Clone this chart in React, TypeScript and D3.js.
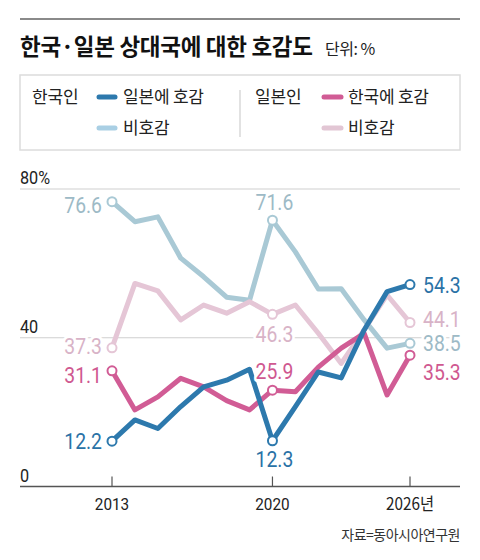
import * as d3 from "d3";
import React, { useEffect } from "react";

// 연도 (x축)
const years = [2013, 2014, 2015, 2016, 2017, 2018, 2019, 2020, 2021, 2022, 2023, 2024, 2025, 2026];
const tickYears = [2013, 2020, 2026];
const tickLabels = ["2013", "2020", "2026년"];
const yTicks = [0, 40, 80];
const yTickLabels = ["0", "40", "80%"];

// 한국인 → 일본
const krLikeJp = [12.2, 17.9, 15.6, 21.5, 26.8, 28.6, 31.5, 12.3, 21.5, 30.8, 29.2, 42.1, 52.4, 54.3];
const krDislikeJp = [76.6, 71.2, 72.5, 61.4, 56.4, 50.9, 50.1, 71.6, 63.1, 53.1, 53.2, 44.8, 37.2, 38.5];
// 일본인 → 한국
const jpLikeKr = [31.1, 20.6, 24.1, 29.1, 26.8, 23.1, 20.6, 25.9, 25.5, 32.1, 37.2, 41.2, 24.6, 35.3];
const jpDislikeKr = [37.3, 54.6, 52.6, 44.8, 48.8, 46.6, 49.7, 46.3, 48.8, 41.2, 33.1, 42.1, 51.5, 44.1];

const labelYears = [2013, 2020, 2026];

const KR = "'Noto Sans CJK KR', 'Noto Sans', sans-serif";
const NUM = "Roboto, sans-serif";

interface Series {
  key: string;
  values: number[];
  line: string;
  text: string;
  // 레이블 위치 보정 (왼쪽, 가운데, 오른쪽)
  left: number;
  mid: number;
  right: number;
}

const series: Series[] = [
  { key: "krDislike", values: krDislikeJp, line: "#a9c9d5", text: "#9dbac6", left: 3, mid: -10, right: 0 },
  { key: "jpDislike", values: jpDislikeKr, line: "#e5c6d6", text: "#d8b3c7", left: -2, mid: 28, right: -4 },
  { key: "jpLike", values: jpLikeKr, line: "#d15c95", text: "#cf5890", left: 4, mid: -11, right: 17 },
  { key: "krLike", values: krLikeJp, line: "#2d79ad", text: "#2a72a6", left: 0, mid: 26, right: 0 },
];

const App: React.FC = () => {
  useEffect(() => {
    document.body.style.margin = "0";
  }, []);

  const x = d3.scaleLinear().domain([2013, 2026]).range([112, 410]);
  const y = d3.scaleLinear().domain([0, 80]).range([486.5, 189]);

  const line = d3
    .line<number>()
    .x((_, i) => x(years[i]))
    .y((d) => y(d));

  const halo = { paintOrder: "stroke" as const, stroke: "#fff", strokeWidth: 6, strokeLinejoin: "round" as const };

  return (
    <svg width={480} height={560} style={{ display: "block" }}>
      <rect width={480} height={560} fill="#fff" />
      {/* 상단 괘선 */}
      <line x1={20} x2={460} y1={19} y2={19} stroke="#8a8a8a" strokeWidth={2} />
      <text x={20} y={55} fontFamily={KR} fontWeight={700} fontSize={22.5} letterSpacing={-0.3} fill="#111">
        한국·일본 상대국에 대한 호감도
      </text>
      <text x={325} y={55} fontFamily={KR} fontSize={16} letterSpacing={-0.5} fill="#222">
        단위: %
      </text>

      {/* 범례 */}
      <rect x={20} y={75} width={440} height={75} fill="none" stroke="#dcdcdc" strokeWidth={1.5} />
      <line x1={240} x2={240} y1={90} y2={137} stroke="#d8d8d8" strokeWidth={1.5} />
      <g fontFamily={KR} fontSize={17} fill="#222" letterSpacing={-0.2}>
        <text x={32} y={103}>한국인</text>
        <text x={123} y={103}>일본에 호감</text>
        <text x={123} y={134}>비호감</text>
        <text x={255} y={103}>일본인</text>
        <text x={348} y={103}>한국에 호감</text>
        <text x={348} y={134}>비호감</text>
      </g>
      <line x1={99} x2={115} y1={97} y2={97} stroke={series[3].line} strokeWidth={5} strokeLinecap="round" />
      <line x1={99} x2={115} y1={128} y2={128} stroke="#a9cfe4" strokeWidth={5} strokeLinecap="round" />
      <line x1={324} x2={341} y1={97} y2={97} stroke={series[2].line} strokeWidth={5} strokeLinecap="round" />
      <line x1={324} x2={341} y1={128} y2={128} stroke="#e2c6d4" strokeWidth={5} strokeLinecap="round" />

      {/* 격자 */}
      {yTicks.map((t, i) => (
        <g key={t}>
          <line
            x1={20}
            x2={460}
            y1={y(t)}
            y2={y(t)}
            stroke={t === 0 ? "#555" : "#cfcfcf"}
            strokeWidth={t === 0 ? 1.5 : 1}
          />
          <text
            transform={`translate(20,${y(t) - 5}) scale(0.9,1)`}
            fontFamily={NUM}
            fontSize={18}
            fill="#222"
          >
            {yTickLabels[i]}
          </text>
        </g>
      ))}
      {tickYears.map((t, i) => (
        <g key={t}>
          <line x1={x(t)} x2={x(t)} y1={y(0) - 10} y2={y(0)} stroke="#555" strokeWidth={1.2} />
          <text
            transform={`translate(${x(t)},510) scale(0.9,1)`}
            textAnchor="middle"
            fontFamily={i === 2 ? KR : NUM}
            fontSize={17}
            fill="#222"
          >
            {tickLabels[i]}
          </text>
        </g>
      ))}

      {/* 선 */}
      {series.map((s) => (
        <path
          key={s.key}
          d={line(s.values) ?? ""}
          fill="none"
          stroke={s.line}
          strokeWidth={5}
          strokeLinejoin="round"
        />
      ))}
      {series.map((s) =>
        labelYears.map((yr) => {
          const v = s.values[years.indexOf(yr)];
          return (
            <circle
              key={s.key + yr}
              cx={x(yr)}
              cy={y(v)}
              r={4.5}
              fill="#fff"
              stroke={s.line}
              strokeWidth={2}
            />
          );
        })
      )}

      {/* 값 레이블 */}
      <g fontFamily={NUM} fontSize={22}>
        {series.map((s) =>
          labelYears.map((yr, j) => {
            const v = s.values[years.indexOf(yr)];
            const px = x(yr);
            const py = y(v);
            let tx = px;
            let ty = py;
            let anchor: "start" | "middle" | "end" = "middle";
            if (j === 0) {
              tx = px - 10;
              ty = py + s.left + 8;
              anchor = "end";
            } else if (j === 1) {
              tx = px + 2;
              ty = py + s.mid;
            } else {
              tx = px + 13;
              ty = py + s.right + 8;
              anchor = "start";
            }
            return (
              <text
                key={s.key + yr}
                transform={`translate(${tx},${ty}) scale(0.88,1)`}
                textAnchor={anchor}
                fill={s.text}
                style={halo}
              >
                {v.toFixed(1)}
              </text>
            );
          })
        )}
      </g>

      <text x={460} y={540} textAnchor="end" fontFamily={KR} fontSize={14} letterSpacing={-0.5} fill="#333">
        자료=동아시아연구원
      </text>
    </svg>
  );
};

export default App;
